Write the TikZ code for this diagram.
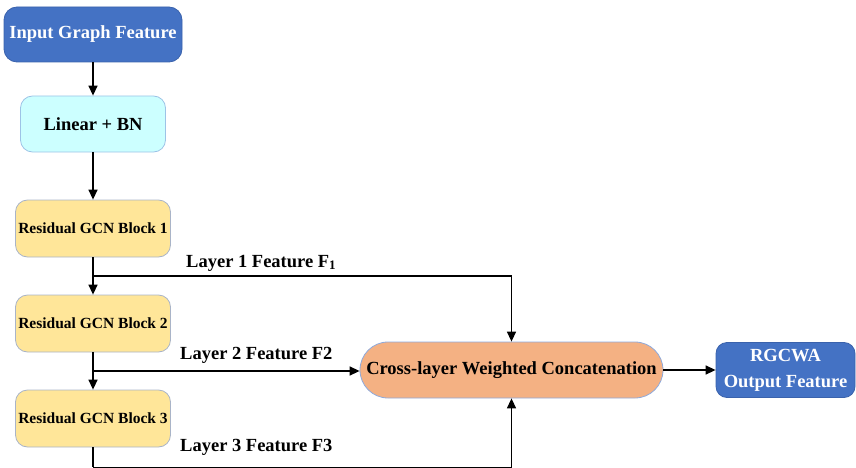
\documentclass[tikz,border=0pt]{standalone}
\usepackage{fontspec}
\setmainfont{Liberation Serif}
\usetikzlibrary{arrows.meta,calc}
\definecolor{inblue}{HTML}{4472C4}
\definecolor{inedge}{HTML}{3A62AC}
\definecolor{lincyan}{HTML}{CCFFFF}
\definecolor{linedge}{HTML}{9DC3E6}
\definecolor{blockfill}{HTML}{FFE699}
\definecolor{blockedge}{HTML}{A9B4C8}
\definecolor{crossfill}{HTML}{F4B183}
\definecolor{crossedge}{HTML}{8FAADC}
\tikzset{
  box/.style={draw, line width=0.8pt, inner sep=0pt, align=center,
    font=\fontsize{18.5}{26}\selectfont\bfseries},
  bluebox/.style={box, fill=inblue, draw=inedge, text=white, rounded corners=13pt},
  linbox/.style={box, fill=lincyan, draw=linedge, rounded corners=12pt},
  blockbox/.style={box, fill=blockfill, draw=blockedge, rounded corners=12pt,
    minimum width=155pt, minimum height=57pt,
    font=\fontsize{15.5}{18}\selectfont\bfseries},
  crossbox/.style={box, fill=crossfill, draw=crossedge, rounded corners=28pt},
  lbl/.style={anchor=west, inner sep=0pt, font=\fontsize{18.5}{22}\selectfont\bfseries},
  arr/.style={line width=1.4pt, -{Triangle[length=10pt,width=9pt]}},
  wire/.style={line width=1.4pt}
}
\begin{document}
\begin{tikzpicture}[x=1pt,y=-1pt]
  \useasboundingbox (0,0) rectangle (856,468);
  % main column, all centred on x = 93
  \node[bluebox, minimum width=178pt, minimum height=55pt] (in) at (93,34.5) {Input Graph Feature};
  \node[linbox, minimum width=145pt, minimum height=56pt] (lin) at (93,124) {Linear + BN};
  \node[blockbox] (b1) at (93,228.5) {Residual GCN Block 1};
  \node[blockbox] (b2) at (93,323.5) {Residual GCN Block 2};
  \node[blockbox] (b3) at (93,418.5) {Residual GCN Block 3};
  % fusion and output, on a common row at y = 370
  \node[crossbox, minimum width=303pt, minimum height=56pt] (cross) at (511.5,370) {Cross-layer Weighted Concatenation};
  \node[bluebox, rounded corners=11pt, minimum width=139pt, minimum height=55pt] (out) at (785.5,370) {RGCWA\\Output Feature};
  % branch points between blocks
  \coordinate (j1) at ($(b1.south)!0.5!(b2.north)$);
  \coordinate (j2) at ($(b2.south)!0.5!(b3.north)$);
  \coordinate (j3) at ($(b3.south)+(0,20)$);
  % vertical flow
  \draw[arr] (in) -- (lin);
  \draw[arr] (lin) -- (b1);
  \draw[arr] (b1) -- (b2);
  \draw[arr] (b2) -- (b3);
  % feature taps
  \draw[arr] (j1) -| (cross.north);
  \draw[arr] (j2) -- (j2 -| cross.west);
  \draw[wire] (b3.south) -- (j3);
  \draw[arr] (j3) -| (cross.south);
  \draw[arr] (cross) -- (out);
  % tap labels
  \node[lbl] (l1) at (186,263) {Layer 1 Feature F\textsubscript{1}};
  \node[lbl] (l2) at (180,355) {Layer 2 Feature F2};
  \node[lbl] (l3) at (180,447) {Layer 3 Feature F3};
\end{tikzpicture}
\end{document}
